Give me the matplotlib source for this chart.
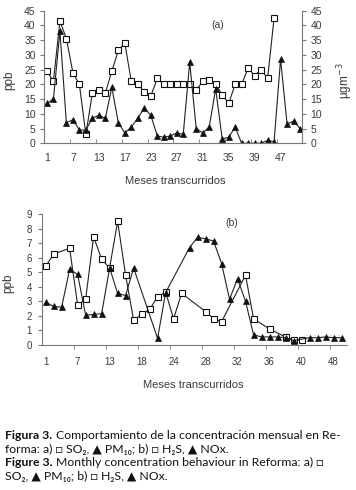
import matplotlib
matplotlib.use("Agg")
from matplotlib import pyplot as plt
from matplotlib.ticker import FixedLocator

plt.rcParams['font.family'] = ['Liberation Sans', 'DejaVu Sans']

# (a) SO2 (squares) and PM10 (triangles), one value per month position
so2 = [24.5, 21, 41.5, 35.5, 24, 20, 3, 17, 18, 17, 24.5, 31.5, 34, 21, 20, 17.5, 16, 22,
       20, 20, 20, 20, 20, 18, 21, 21.5, 20, 16.5, 13.5, 20, 20, 25.5, 23, 25, 22, 42.5]
pm10 = [13.5, 15, 38, 7, 8, 4.5, 4.5, 8.5, 9.5, 8.5, 19, 7, 3.5, 5.5, 8.5, 12, 9.5, 2.5, 2,
        2.5, 3.5, 3, 27.5, 5, 3.5, 5.5, 18.5, 1.5, 2, 5.5, 0, 0, 0, 0, 1, 0.5, 28.5, 6.5, 7.5, 5]
labels_a = ['1', '7', '13', '17', '23', '27', '31', '35', '39', '47']

# (b) H2S (squares) and NOx (triangles), with missing months
h2s_pos = [0, 1, 3, 4, 5, 6, 7, 8, 9, 10, 11, 12, 13, 14, 15, 16, 17, 20, 21, 22, 25, 26,
           28, 30, 31, 32]
h2s = [5.4, 6.25, 6.65, 2.75, 3.15, 7.45, 5.9, 5.3, 8.5, 4.8, 1.7, 2.1, 2.45, 3.3, 3.65, 1.8,
       3.55, 2.3, 1.8, 1.6, 4.8, 1.8, 1.1, 0.55, 0.35, 0.35]
nox_pos = [0, 1, 2, 3, 4, 5, 6, 7, 8, 9, 10, 11, 14, 15, 18, 19, 20, 21, 22, 23, 24, 25, 26,
           27, 28, 29, 30, 31, 33, 34, 35, 36, 37]
nox = [2.95, 2.65, 2.6, 5.2, 4.85, 2.05, 2.1, 2.15, 5.3, 3.55, 3.4, 5.3, 0.45, 3.6, 6.7, 7.4,
       7.3, 7.15, 5.6, 3.15, 4.55, 3.0, 0.7, 0.55, 0.55, 0.55, 0.5, 0.3, 0.5, 0.5, 0.55, 0.5, 0.5]
labels_b = ['1', '7', '13', '18', '24', '28', '32', '36', '40', '48']

txt = '#3a3a3a'
line = '#222222'
sq = dict(color=line, lw=0.8, marker='s', ms=3.8, mfc='white', mec='#111111', mew=0.8)
tri = dict(color=line, lw=0.8, marker='^', ms=4.4, mfc='#111111', mec='#111111', mew=0.5)

fig = plt.figure(figsize=(3.56, 4.90), dpi=100)

# ---- panel (a)
ax1 = fig.add_axes([0.1236, 0.7076, 0.7247, 0.2706])
ax1.plot(range(len(so2)), so2, **sq)
ax1.plot(range(len(pm10)), pm10, **tri)
ax1.set_xlim(-0.45, 39.3)
ax1.set_ylim(0, 45)
ax1.set_yticks(range(0, 46, 5))
major_a = [4 * i for i in range(len(labels_a))]
ax1.xaxis.set_major_locator(FixedLocator(major_a))
ax1.set_xticklabels(labels_a)
ax1.xaxis.set_minor_locator(FixedLocator([p - 0.5 for p in major_a[1:]]))
ax1.tick_params(axis='x', which='major', length=0, pad=7, labelsize=7.5, labelcolor=txt)
ax1.tick_params(axis='x', which='minor', direction='in', length=3, color='#777777')
ax1.tick_params(axis='y', length=3, pad=3, labelsize=7.5, labelcolor=txt, color='#777777')
for s in ['top', 'right']:
    ax1.spines[s].set_visible(False)
for s in ['left', 'bottom']:
    ax1.spines[s].set_color('#777777')
ax1.set_xlabel('Meses transcurridos', fontsize=8, color=txt)
ax1.xaxis.set_label_coords(0.51, -0.247)
ax1.set_ylabel('ppb', fontsize=8.5, color=txt)
ax1.yaxis.set_label_coords(-0.112, 0.477)
ax1.text(0.674, 0.892, '(a)', transform=ax1.transAxes, fontsize=7.5, color=txt,
         ha='center', va='center')

ax1r = ax1.twinx()
ax1r.set_ylim(0, 45)
ax1r.set_yticks(range(0, 46, 5))
ax1r.tick_params(axis='y', length=3, pad=3, labelsize=7.5, labelcolor=txt, color='#777777')
for s in ['top', 'left', 'bottom']:
    ax1r.spines[s].set_visible(False)
ax1r.spines['right'].set_color('#777777')
ax1r.set_ylabel('µgm$^{-3}$', fontsize=8.5, color=txt, rotation=90)
ax1r.yaxis.set_label_coords(1.128, 0.47)

# ---- panel (b)
ax2 = fig.add_axes([0.117, 0.296, 0.858, 0.267])
ax2.plot(h2s_pos, h2s, **sq)
ax2.plot(nox_pos, nox, **tri)
ax2.set_xlim(-0.5, 37.7)
ax2.set_ylim(0, 9)
ax2.set_yticks(range(0, 10))
major_b = [4 * i for i in range(len(labels_b))]
ax2.xaxis.set_major_locator(FixedLocator(major_b))
ax2.set_xticklabels(labels_b)
ax2.xaxis.set_minor_locator(FixedLocator([p - 0.5 for p in major_b[1:]]))
ax2.tick_params(axis='x', which='major', length=0, pad=9, labelsize=7, labelcolor=txt)
ax2.tick_params(axis='x', which='minor', direction='out', length=3, color='#777777')
ax2.tick_params(axis='y', length=3, pad=4, labelsize=7, labelcolor=txt, color='#777777')
for s in ['top', 'right']:
    ax2.spines[s].set_visible(False)
for s in ['left', 'bottom']:
    ax2.spines[s].set_color('#777777')
ax2.set_xlabel('Meses transcurridos', fontsize=8, color=txt)
ax2.xaxis.set_label_coords(0.496, -0.267)
ax2.set_ylabel('ppb', fontsize=8.5, color=txt)
ax2.yaxis.set_label_coords(-0.091, 0.47)
ax2.text(0.623, 0.93, '(b)', transform=ax2.transAxes, fontsize=7.5, color=txt,
         ha='center', va='center')

# ---- caption: bold prefix + regular remainder per line
cap = [
    ('Figura 3.', 'Comportamiento de la concentración mensual en Re-'),
    ('', 'forma: a) □ SO₂, ▲ PM₁₀; b) □ H₂S, ▲ NOx.'),
    ('Figure 3.', 'Monthly concentration behaviour in Reforma: a) □'),
    ('', 'SO₂, ▲ PM₁₀; b) □ H₂S, ▲ NOx.'),
]
cap_font = ['Lato', 'DejaVu Sans']
renderer = fig.canvas.get_renderer()
x0 = 5 / 356
for i, (b, s) in enumerate(cap):
    y = 1 - (439 + 13.7 * i) / 490
    x = x0
    if b:
        t = fig.text(x0, y, b, fontsize=8.8, fontweight='bold', color='#111111',
                     family=cap_font, ha='left', va='baseline')
        w = t.get_window_extent(renderer).width
        x = x0 + (w + 3.5) / fig.bbox.width
    fig.text(x, y, s, fontsize=8.8, color='#111111', family=cap_font,
             ha='left', va='baseline')

fig.savefig('out.png', dpi=100)
